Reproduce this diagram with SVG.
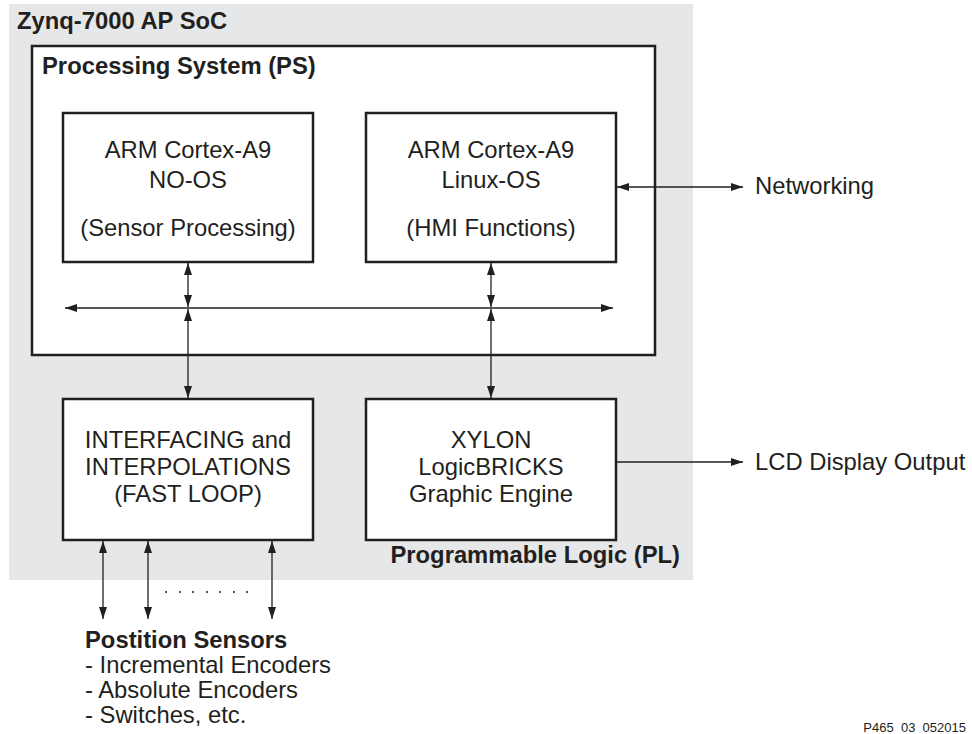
<svg xmlns="http://www.w3.org/2000/svg" width="972" height="734" viewBox="0 0 972 734">
<style>
text{font-family:"Liberation Sans",Arial,sans-serif;fill:#231f20}
.t{font-size:23.8px}
.b{font-size:23.8px;font-weight:bold}
.c{text-anchor:middle}
.box{fill:#fff;stroke:#231f20;stroke-width:2.5}
.ln{stroke:#231f20;stroke-width:1.3;fill:none}
</style>
<defs>
<marker id="ah" viewBox="0 0 12 8" refX="12" refY="4" markerWidth="12" markerHeight="8" markerUnits="userSpaceOnUse" orient="auto-start-reverse">
<path d="M0,0 L12,4 L0,8 Z" fill="#231f20"/>
</marker>
</defs>
<g id="soc">
<rect x="9" y="4" width="684" height="576" fill="#e6e7e8"/>
<text class="b" x="17" y="29">Zynq-7000 AP SoC</text>
</g>
<g id="ps">
<rect class="box" x="32" y="46" width="623" height="309"/>
<text class="b" x="42" y="74">Processing System (PS)</text>
</g>
<g id="arm0">
<rect class="box" x="63" y="113" width="250" height="149"/>
<text class="t c" x="188" y="158">ARM Cortex-A9</text>
<text class="t c" x="188" y="188">NO-OS</text>
<text class="t c" x="188" y="236">(Sensor Processing)</text>
</g>
<g id="arm1">
<rect class="box" x="366" y="113" width="250" height="149"/>
<text class="t c" x="491" y="158">ARM Cortex-A9</text>
<text class="t c" x="491" y="188">Linux-OS</text>
<text class="t c" x="491" y="236">(HMI Functions)</text>
</g>
<g id="iface">
<rect class="box" x="63" y="399" width="250" height="141"/>
<text class="t c" x="188" y="448">INTERFACING and</text>
<text class="t c" x="188" y="475">INTERPOLATIONS</text>
<text class="t c" x="188" y="502">(FAST LOOP)</text>
</g>
<g id="xylon">
<rect class="box" x="366" y="399" width="250" height="141"/>
<text class="t c" x="491" y="448">XYLON</text>
<text class="t c" x="491" y="475">LogicBRICKS</text>
<text class="t c" x="491" y="502">Graphic Engine</text>
</g>
<g id="pl">
<text class="b" x="680" y="563" text-anchor="end">Programmable Logic (PL)</text>
</g>
<g id="networking"><text class="t" x="755" y="194">Networking</text></g>
<g id="lcd"><text class="t" x="755" y="470">LCD Display Output</text></g>
<g id="sensors">
<text class="b" x="85" y="648">Postition Sensors</text>
<text class="t" x="85" y="673">- Incremental Encoders</text>
<text class="t" x="85" y="698">- Absolute Encoders</text>
<text class="t" x="85" y="723">- Switches, etc.</text>
</g>
<g id="connectors">
<line class="ln" x1="65" y1="308" x2="613" y2="308" marker-start="url(#ah)" marker-end="url(#ah)"/>
<line class="ln" x1="188" y1="263" x2="188" y2="307" marker-start="url(#ah)" marker-end="url(#ah)"/>
<line class="ln" x1="491" y1="263" x2="491" y2="307" marker-start="url(#ah)" marker-end="url(#ah)"/>
<line class="ln" x1="188" y1="309" x2="188" y2="398" marker-start="url(#ah)" marker-end="url(#ah)"/>
<line class="ln" x1="491" y1="309" x2="491" y2="398" marker-start="url(#ah)" marker-end="url(#ah)"/>
<line class="ln" x1="617" y1="187" x2="743" y2="187" marker-start="url(#ah)" marker-end="url(#ah)"/>
<line class="ln" x1="617" y1="462" x2="743" y2="462" marker-end="url(#ah)"/>
<line class="ln" x1="103" y1="541" x2="103" y2="619" marker-start="url(#ah)" marker-end="url(#ah)"/>
<line class="ln" x1="148" y1="541" x2="148" y2="619" marker-start="url(#ah)" marker-end="url(#ah)"/>
<line class="ln" x1="272" y1="541" x2="272" y2="619" marker-start="url(#ah)" marker-end="url(#ah)"/>
<g fill="#231f20">
<circle cx="166" cy="592" r="1"/><circle cx="180" cy="592" r="1"/><circle cx="193" cy="592" r="1"/><circle cx="207" cy="592" r="1"/><circle cx="220" cy="592" r="1"/><circle cx="234" cy="592" r="1"/><circle cx="247" cy="592" r="1"/>
</g>
</g>
<text x="966" y="732" font-size="13" text-anchor="end">P465_03_052015</text>
</svg>
